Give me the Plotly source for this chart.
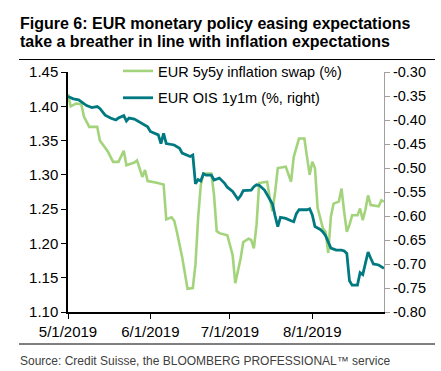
import plotly.graph_objects as go

# ---------------- data ----------------
swap_dates = [
    "2019-05-01", "2019-05-02", "2019-05-04", "2019-05-06", "2019-05-07", "2019-05-09",
    "2019-05-12", "2019-05-13", "2019-05-16", "2019-05-18", "2019-05-20", "2019-05-21",
    "2019-05-22", "2019-05-23", "2019-05-26", "2019-05-27", "2019-05-29", "2019-05-30",
    "2019-05-31", "2019-06-03", "2019-06-06", "2019-06-07", "2019-06-09", "2019-06-10",
    "2019-06-11", "2019-06-13", "2019-06-15", "2019-06-17", "2019-06-18", "2019-06-19",
    "2019-06-20", "2019-06-21", "2019-06-24", "2019-06-25", "2019-06-26", "2019-06-27",
    "2019-06-30", "2019-07-02", "2019-07-03", "2019-07-05", "2019-07-06", "2019-07-08",
    "2019-07-09", "2019-07-10", "2019-07-11", "2019-07-12", "2019-07-15", "2019-07-16",
    "2019-07-17", "2019-07-18", "2019-07-19", "2019-07-22", "2019-07-23", "2019-07-24",
    "2019-07-25", "2019-07-27", "2019-07-29", "2019-07-30", "2019-07-31", "2019-08-01",
    "2019-08-02", "2019-08-03", "2019-08-05", "2019-08-06", "2019-08-07", "2019-08-08",
    "2019-08-09", "2019-08-11", "2019-08-12", "2019-08-13", "2019-08-14", "2019-08-15",
    "2019-08-16", "2019-08-18", "2019-08-19", "2019-08-20", "2019-08-21", "2019-08-22",
    "2019-08-23", "2019-08-26", "2019-08-27", "2019-08-28",
]
swap_values = [
    1.418, 1.400, 1.404, 1.403, 1.385, 1.370,
    1.370, 1.350, 1.334, 1.319, 1.319, 1.326,
    1.335, 1.314, 1.318, 1.321, 1.297, 1.307,
    1.291, 1.289, 1.286, 1.235, 1.238, 1.233,
    1.217, 1.180, 1.134, 1.135, 1.169, 1.237,
    1.285, 1.302, 1.302, 1.270, 1.218, 1.215,
    1.212, 1.183, 1.142, 1.178, 1.202, 1.207,
    1.205, 1.193, 1.227, 1.288, 1.290, 1.266,
    1.247, 1.275, 1.310, 1.312, 1.300, 1.290,
    1.326, 1.353, 1.353, 1.329, 1.300, 1.319,
    1.310, 1.252, 1.222, 1.217, 1.186, 1.239,
    1.258, 1.261, 1.280, 1.246, 1.217, 1.227,
    1.241, 1.241, 1.251, 1.234, 1.249, 1.270,
    1.256, 1.254, 1.263, 1.261,
]

ois_dates = [
    "2019-05-01", "2019-05-03", "2019-05-05", "2019-05-07", "2019-05-08", "2019-05-10",
    "2019-05-12", "2019-05-13", "2019-05-15", "2019-05-17", "2019-05-19", "2019-05-20",
    "2019-05-22", "2019-05-23", "2019-05-24", "2019-05-26", "2019-05-29", "2019-05-31",
    "2019-06-01", "2019-06-03", "2019-06-04", "2019-06-05", "2019-06-06", "2019-06-07",
    "2019-06-10", "2019-06-12", "2019-06-13", "2019-06-16", "2019-06-17", "2019-06-18",
    "2019-06-19", "2019-06-20", "2019-06-21", "2019-06-22", "2019-06-24", "2019-06-25",
    "2019-06-27", "2019-06-29", "2019-06-30", "2019-07-02", "2019-07-04", "2019-07-05",
    "2019-07-06", "2019-07-09", "2019-07-10", "2019-07-11", "2019-07-12", "2019-07-14",
    "2019-07-16", "2019-07-17", "2019-07-18", "2019-07-19", "2019-07-20", "2019-07-22",
    "2019-07-24", "2019-07-25", "2019-07-26", "2019-07-27", "2019-07-30", "2019-07-31",
    "2019-08-01", "2019-08-02", "2019-08-04", "2019-08-05", "2019-08-06", "2019-08-07",
    "2019-08-08", "2019-08-10", "2019-08-12", "2019-08-13", "2019-08-14", "2019-08-15",
    "2019-08-16", "2019-08-18", "2019-08-19", "2019-08-20", "2019-08-21", "2019-08-22",
    "2019-08-23", "2019-08-24", "2019-08-26", "2019-08-27", "2019-08-28",
]
ois_values = [
    -0.351, -0.356, -0.358, -0.365, -0.370, -0.374,
    -0.372, -0.376, -0.390, -0.396, -0.400, -0.396,
    -0.391, -0.402, -0.396, -0.398, -0.407, -0.414,
    -0.424, -0.428, -0.431, -0.449, -0.428, -0.449,
    -0.452, -0.459, -0.469, -0.476, -0.473, -0.533,
    -0.524, -0.527, -0.512, -0.515, -0.515, -0.525,
    -0.521, -0.532, -0.540, -0.549, -0.565, -0.558,
    -0.547, -0.546, -0.539, -0.535, -0.536, -0.546,
    -0.565, -0.575, -0.600, -0.622, -0.603, -0.605,
    -0.610, -0.612, -0.595, -0.587, -0.587, -0.585,
    -0.598, -0.622, -0.628, -0.633, -0.641, -0.655,
    -0.667, -0.671, -0.671, -0.673, -0.678, -0.735,
    -0.744, -0.744, -0.718, -0.722, -0.700, -0.675,
    -0.688, -0.700, -0.702, -0.706, -0.709,
]

x_tick_vals = ["2019-05-01", "2019-06-01", "2019-07-01", "2019-08-01"]
x_tick_text = ["5/1/2019", "6/1/2019", "7/1/2019", "8/1/2019"]
left_tick_vals = [1.10, 1.15, 1.20, 1.25, 1.30, 1.35, 1.40, 1.45]
right_tick_vals = [-0.80, -0.75, -0.70, -0.65, -0.60, -0.55, -0.50, -0.45, -0.40, -0.35, -0.30]
right_tick_text = ["-0.80", "-0.75", "-0.70", "-0.65", "-0.60", "-0.55", "-0.50",
                   "-0.45", "-0.40", "-0.35", "-0.30"]

title_lines = ["Figure 6: EUR monetary policy easing expectations",
               "take a breather in line with inflation expectations"]
source_text = "Source: Credit Suisse, the BLOOMBERG PROFESSIONAL\u2122 service"

# ---------------- figure ----------------
FONT = "Liberation Sans, Arial, sans-serif"
GREEN = "#a3d47c"
TEAL = "#007a80"

W, H = 441, 371
L, R, T, B = 68, 57, 72, 59
PW, PH = W - L - R, H - T - B


def px_x(px):
    return (px - L) / PW


def px_y(py):
    return (H - B - py) / PH


fig = go.Figure()
fig.add_trace(go.Scatter(
    x=swap_dates, y=swap_values, mode="lines", name="EUR 5y5y inflation swap (%)",
    line=dict(color=GREEN, width=2.6), legendgroup="a", yaxis="y",
))
fig.add_trace(go.Scatter(
    x=ois_dates, y=ois_values, mode="lines", name="EUR OIS 1y1m (%, right)",
    line=dict(color=TEAL, width=2.8), legendgroup="b", yaxis="y2",
))

fig.update_layout(
    width=W, height=H,
    margin=dict(l=L, r=R, t=T, b=B, pad=0),
    paper_bgcolor="white", plot_bgcolor="white",
    font=dict(family=FONT, size=14, color="black"),
    showlegend=True,
    legend=dict(
        x=px_x(118), y=px_y(55), xanchor="left", yanchor="top",
        bgcolor="rgba(0,0,0,0)", borderwidth=0,
        font=dict(family=FONT, size=14.5, color="black"),
        tracegroupgap=5, itemwidth=30,
    ),
    xaxis=dict(
        type="date", range=["2019-05-01", "2019-08-28"],
        tickvals=x_tick_vals, ticktext=x_tick_text,
        ticks="outside", ticklen=5, tickwidth=1, tickcolor="black",
        showline=True, linecolor="black", linewidth=1.5,
        showgrid=False, zeroline=False,
        tickfont=dict(family=FONT, size=15, color="black"),
    ),
    yaxis=dict(
        range=[1.10, 1.45], tickvals=left_tick_vals, tickformat=".2f",
        ticks="outside", ticklen=5, tickwidth=1, tickcolor="black",
        showline=True, linecolor="black", linewidth=1.5,
        showgrid=False, zeroline=False,
        tickfont=dict(family=FONT, size=15, color="black"),
    ),
    yaxis2=dict(
        overlaying="y", side="right",
        range=[-0.80, -0.30], tickvals=right_tick_vals, ticktext=right_tick_text,
        ticks="outside", ticklen=5, tickwidth=1, tickcolor="#a0a0a0",
        showline=True, linecolor="#a0a0a0", linewidth=1,
        showgrid=False, zeroline=False,
        tickfont=dict(family=FONT, size=14.5, color="black"),
    ),
)

# title lines
fig.add_annotation(
    text="<b>" + title_lines[0] + "</b>", xref="paper", yref="paper",
    x=px_x(18), y=px_y(23), xanchor="left", yanchor="middle", showarrow=False,
    font=dict(family=FONT, size=16, color="black"),
)
fig.add_annotation(
    text="<b>" + title_lines[1] + "</b>", xref="paper", yref="paper",
    x=px_x(18), y=px_y(41), xanchor="left", yanchor="middle", showarrow=False,
    font=dict(family=FONT, size=16, color="black"),
)
# source
fig.add_annotation(
    text=source_text, xref="paper", yref="paper",
    x=px_x(18), y=px_y(361), xanchor="left", yanchor="middle", showarrow=False,
    font=dict(family=FONT, size=12, color="#404040"),
)
# rules
fig.add_shape(type="line", xref="paper", yref="paper",
              x0=px_x(19), x1=px_x(435), y0=px_y(59.5), y1=px_y(59.5),
              line=dict(color="black", width=1))
fig.add_shape(type="line", xref="paper", yref="paper",
              x0=px_x(19), x1=px_x(435), y0=px_y(344), y1=px_y(344),
              line=dict(color="black", width=1))

fig.write_html(
    "out.html",
    config={"displayModeBar": False},
    post_script="document.body.style.margin='0px';document.body.style.overflow='hidden';",
)
